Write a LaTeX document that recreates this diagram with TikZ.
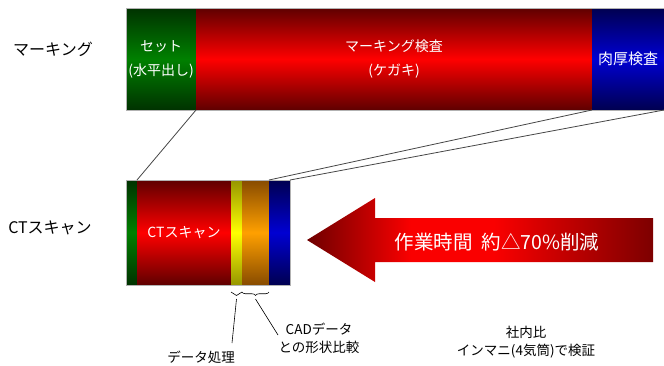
\documentclass[tikz,border=0pt]{standalone}
\usepackage{fontspec}
\setmainfont{Noto Sans CJK JP}
\usetikzlibrary{decorations.pathreplacing}
\definecolor{rdark}{RGB}{95,0,0}
\definecolor{rmid}{RGB}{255,0,0}
\definecolor{gdark}{RGB}{0,50,0}
\definecolor{gmid}{RGB}{0,128,0}
\definecolor{bdark}{RGB}{0,0,80}
\definecolor{bmid}{RGB}{0,0,210}
\definecolor{ydark}{RGB}{150,150,0}
\definecolor{ymid}{RGB}{255,255,0}
\definecolor{odark}{RGB}{135,75,0}
\definecolor{omid}{RGB}{255,160,0}
\definecolor{adark}{RGB}{110,0,0}
\definecolor{abright}{RGB}{250,0,0}
\definecolor{adark2}{RGB}{125,0,0}
\definecolor{linegray}{RGB}{70,70,70}
\pgfdeclarehorizontalshading{arrowshade}{100bp}{color(0bp)=(adark); color(25bp)=(adark); color(40bp)=(abright); color(52bp)=(abright); color(75bp)=(adark2); color(100bp)=(adark2)}
\tikzset{
  blk/.style={anchor=north west, inner sep=0pt, outer sep=0pt, text=white, align=center, font=\fontsize{14}{24}\selectfont},
  topblk/.style={blk, minimum height=102pt},
  botblk/.style={blk, minimum height=105pt},
  gshade/.style={top color=gdark, bottom color=gdark, middle color=gmid},
  rshade/.style={top color=rdark, bottom color=rdark, middle color=rmid},
  bshade/.style={top color=bdark, bottom color=bdark, middle color=bmid},
  yshade/.style={top color=ydark, bottom color=ydark, middle color=ymid},
  oshade/.style={top color=odark, bottom color=odark, middle color=omid},
  conn/.style={draw=linegray, line width=0.8pt},
  frame/.style={draw=gray!60, line width=0.5pt},
  rowlabel/.style={font=\fontsize{16}{19}\selectfont},
  note/.style={font=\fontsize{13.5}{18}\selectfont, align=center, inner sep=0pt},
  bracestyle/.style={draw=black, line width=0.6pt, decorate, decoration={brace, mirror, amplitude=3.5pt}},
}
\begin{document}
\begin{tikzpicture}[x=1pt, y=-1pt]
\useasboundingbox (0,0) rectangle (664,365);
% top bar
\node[topblk, gshade, minimum width=70pt] (set) at (126,8) {セット\\(水平出し)};
\node[topblk, rshade, minimum width=396pt] (mark) at (196,8) {マーキング検査\\(ケガキ)};
\node[topblk, bshade, minimum width=72pt, font=\fontsize{15}{18}\selectfont] (thick) at (592,8) {\raisebox{-3pt}{肉厚検査}};
\draw[frame] (set.north west) rectangle (thick.south east);
% bottom bar
\node[botblk, gshade, minimum width=11pt] (ctg) at (126,180) {};
\node[botblk, rshade, minimum width=94pt] (ctr) at (137,180) {\raisebox{-4pt}{CTスキャン}};
\node[botblk, yshade, minimum width=11pt] (cty) at (231,180) {};
\node[botblk, oshade, minimum width=27pt] (cto) at (242,180) {};
\node[botblk, bshade, minimum width=21pt] (ctb) at (269,180) {};
\draw[frame] (ctg.north west) rectangle (ctb.south east);
% row labels
\node[rowlabel] (lmark) at (53,49) {マーキング};
\node[rowlabel] (lct) at (50,228) {CTスキャン};
% connectors
\draw[conn] (set.south east) -- (ctr.north west);
\draw[conn] (thick.south west) -- (ctb.north west);
\draw[conn] (thick.south east) -- (ctb.north east);
% arrow
\path[shading=arrowshade] (307,240) -- (375,198) -- (375,218) -- (653,218) -- (653,262) -- (375,262) -- (375,282) -- cycle;
\node[text=white, font=\fontsize{19.5}{22}\selectfont, inner sep=0pt] (arrtxt) at (497,242) {作業時間\ \ 約△70\%削減};
% braces
\coordinate (b1l) at (231,292);
\coordinate (b1r) at (242,292);
\coordinate (b2l) at (242,292);
\coordinate (b2r) at (269,292);
\draw[bracestyle] (b1l) -- (b1r);
\draw[bracestyle] (b2l) -- (b2r);
\coordinate (b1t) at (236.5,299);
\coordinate (b2t) at (255.5,299);
% bottom labels
\node[note] (ldata) at (201,357) {データ処理};
\node[note] (lcad) at (319,338) {CADデータ\\との形状比較};
\node[note] (lcomp) at (526,342) {社内比\\インマニ(4気筒)で検証};
\coordinate (e1) at (232,343);
\coordinate (e2) at (278,335);
\draw[line width=0.6pt] (b1t) -- (e1);
\draw[line width=0.6pt] (b2t) -- (e2);
\end{tikzpicture}
\end{document}
